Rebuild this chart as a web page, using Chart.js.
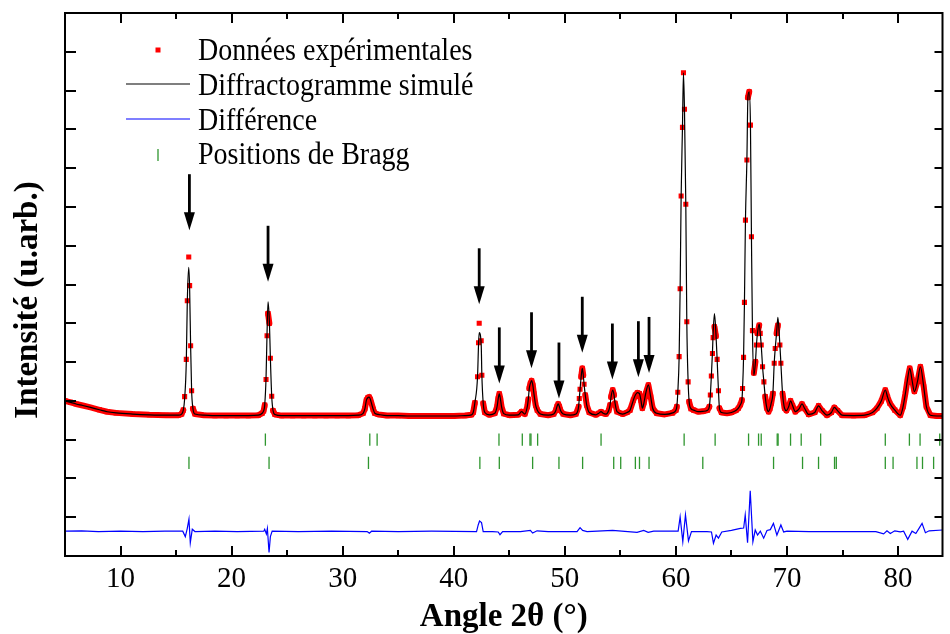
<!DOCTYPE html>
<html>
<head>
<meta charset="utf-8">
<script src="https://cdn.jsdelivr.net/npm/chart.js@4.4.1/dist/chart.umd.min.js"></script>
<style>
  body { margin: 0; background: #fff; }
  #wrap { width: 950px; height: 634px; }
</style>
</head>
<body>
<div id="wrap"><canvas id="xrd"></canvas></div>
<script>
// angles 2theta (deg) and intensities (u.arb.)
const angle = [
  5.0, 5.5, 6.0, 6.6, 7.3, 8.1, 8.8, 9.6, 11.1, 12.6, 14.1, 15.2, 15.5,
  15.65, 15.77, 15.92, 16.01, 16.14, 16.22, 16.31, 16.40, 16.52, 16.7,
  17.5, 18.5, 19.5, 20.5, 21.5, 22.4, 22.75,
  22.88, 22.98, 23.10, 23.19, 23.28, 23.40, 23.49, 23.61, 23.73, 23.9,
  24.5, 25.5, 26.5, 27.5, 28.5, 29.5, 30.5, 31.4,
  31.84, 32.0, 32.14, 32.26, 32.38, 32.49, 32.59, 32.75, 32.89, 33.2,
  34, 35, 36, 37, 38, 39, 40, 41, 41.6,
  41.75, 41.90, 42.14, 42.23, 42.29, 42.47, 42.53, 42.65, 42.8,
  43.2, 43.7, 43.9, 44.0, 44.1, 44.2, 44.3, 44.5, 45.0, 45.8, 46.1, 46.4,
  46.62, 46.71, 46.80, 46.9, 47.01, 47.12, 47.22, 47.37, 47.52, 47.8, 48.5,
  49.0, 49.2, 49.3, 49.4, 49.5, 49.6, 49.85, 50.5,
  51.0, 51.24, 51.30, 51.37, 51.47, 51.57, 51.66, 51.73, 51.84, 51.97, 52.2,
  52.8, 53.05, 53.26, 53.45, 53.7, 53.95, 54.07, 54.16, 54.31, 54.43, 54.52, 54.7, 55.2, 55.6,
  55.87, 56.17, 56.35, 56.53, 56.71, 56.85, 56.98, 57.12, 57.28, 57.52, 57.73, 57.91, 58.27,
  59.0, 59.7, 60.0,
  60.08, 60.17, 60.29, 60.38, 60.47, 60.59, 60.68, 60.77, 60.89, 60.98, 61.10, 61.19, 61.35, 61.6,
  62.0, 62.45, 62.85,
  63.01, 63.10, 63.19, 63.29, 63.35, 63.47, 63.60, 63.71, 63.83, 63.92, 64.1, 64.6, 65.0, 65.4, 65.62, 65.8,
  65.94, 66.00, 66.09, 66.17, 66.26, 66.39, 66.48, 66.60, 66.71, 66.80, 66.89, 67.02,
  67.16, 67.25, 67.34, 67.50, 67.59, 67.68, 67.80, 67.92, 68.04, 68.19, 68.34, 68.46,
  68.58, 68.73, 68.85, 68.94, 69.06, 69.18, 69.36, 69.45, 69.60, 69.78, 69.95,
  70.15, 70.32, 70.5, 70.75, 71.1, 71.35, 71.6, 71.95, 72.5, 72.84, 73.15, 73.6, 74.0, 74.26, 74.55, 74.95,
  76.0, 77.0, 77.7, 78.1, 78.5, 78.85, 79.05, 79.26, 79.71, 80.2,
  80.45, 80.66, 80.85, 81.05, 81.25, 81.47, 81.75, 82.01, 82.31, 82.55, 82.91, 83.5, 84.0
];
const yObs = [
  4.00, 3.96, 3.92, 3.88, 3.83, 3.77, 3.72, 3.69, 3.66, 3.64, 3.63, 3.63, 3.66,
  3.76, 4.11, 5.07, 6.58, 7.71, 6.97, 5.42, 4.26, 3.80, 3.66,
  3.63, 3.62, 3.62, 3.62, 3.62, 3.63, 3.68,
  3.74, 3.89, 4.55, 5.68, 6.25, 6.00, 5.10, 4.12, 3.75, 3.65,
  3.62, 3.62, 3.62, 3.62, 3.62, 3.62, 3.62, 3.63,
  3.68, 3.80, 4.02, 4.08, 4.10, 4.04, 3.94, 3.78, 3.68, 3.65,
  3.62, 3.62, 3.61, 3.61, 3.61, 3.61, 3.61, 3.62, 3.64,
  3.70, 3.95, 4.62, 5.50, 6.00, 5.55, 4.66, 3.94, 3.70,
  3.64, 3.68, 3.85, 4.05, 4.18, 4.05, 3.85, 3.67, 3.63, 3.64, 3.72, 3.66,
  3.85, 4.04, 4.32, 4.45, 4.52, 4.40, 4.18, 3.89, 3.76, 3.66, 3.63,
  3.66, 3.76, 3.86, 3.92, 3.86, 3.76, 3.66, 3.63,
  3.66, 3.85, 4.06, 4.30, 4.62, 4.84, 4.66, 4.43, 4.15, 3.89, 3.70,
  3.64, 3.68, 3.72, 3.68, 3.66, 3.75, 3.89, 4.10, 4.28, 4.15, 3.94, 3.72, 3.66, 3.70,
  3.76, 4.02, 4.15, 4.21, 4.19, 4.02, 3.81, 3.95, 4.19, 4.41, 4.10, 3.81, 3.68,
  3.65, 3.69, 3.76,
  3.85, 4.22, 5.14, 6.89, 9.28, 11.05, 12.46, 11.52, 9.07, 6.04, 4.49, 3.98, 3.80, 3.76,
  3.72, 3.73, 3.76,
  3.85, 4.15, 4.64, 5.22, 5.63, 5.91, 5.67, 5.07, 4.26, 3.81, 3.70, 3.68, 3.70, 3.75, 3.81, 3.90,
  4.02, 4.32, 5.12, 6.54, 8.66, 10.21, 11.82, 11.97, 11.11, 8.23, 5.81, 4.72,
  5.01, 5.44, 5.74, 5.95, 5.74, 5.44, 4.88, 4.49, 4.11, 3.81, 3.72, 3.80,
  3.94, 4.19, 4.97, 5.35, 5.74, 5.95, 5.44, 4.97, 4.19, 3.81, 3.75,
  3.85, 4.00, 3.88, 3.72, 3.80, 3.92, 3.80, 3.65, 3.70, 3.87, 3.75, 3.63, 3.70, 3.83, 3.75, 3.63,
  3.62, 3.63, 3.70, 3.81, 4.00, 4.28, 4.10, 3.94, 3.76, 3.63,
  3.85, 4.19, 4.55, 4.84, 4.55, 4.24, 4.50, 4.88, 4.36, 3.85, 3.63, 3.61, 3.61
];
const yCalc = [
  4.00, 3.96, 3.92, 3.88, 3.83, 3.77, 3.72, 3.69, 3.66, 3.64, 3.63, 3.63, 3.66,
  3.76, 4.05, 5.00, 6.55, 7.44, 6.90, 5.42, 4.26, 3.80, 3.66,
  3.63, 3.62, 3.62, 3.62, 3.62, 3.63, 3.68,
  3.74, 3.89, 4.60, 5.75, 6.55, 6.05, 5.10, 4.12, 3.75, 3.65,
  3.62, 3.62, 3.62, 3.62, 3.62, 3.62, 3.62, 3.63,
  3.68, 3.80, 4.02, 4.08, 4.10, 4.04, 3.94, 3.78, 3.68, 3.65,
  3.62, 3.62, 3.61, 3.61, 3.61, 3.61, 3.61, 3.62, 3.64,
  3.70, 3.95, 4.62, 5.45, 5.76, 5.45, 4.66, 3.94, 3.70,
  3.64, 3.68, 3.85, 4.05, 4.18, 4.05, 3.85, 3.67, 3.63, 3.64, 3.72, 3.66,
  3.85, 4.04, 4.32, 4.45, 4.52, 4.40, 4.18, 3.89, 3.76, 3.66, 3.63,
  3.66, 3.76, 3.86, 3.92, 3.86, 3.76, 3.66, 3.63,
  3.66, 3.85, 4.06, 4.30, 4.62, 4.84, 4.66, 4.43, 4.15, 3.89, 3.70,
  3.64, 3.68, 3.72, 3.68, 3.66, 3.75, 3.89, 4.10, 4.28, 4.15, 3.94, 3.72, 3.66, 3.70,
  3.76, 4.02, 4.15, 4.21, 4.19, 4.02, 3.81, 3.95, 4.19, 4.41, 4.10, 3.81, 3.68,
  3.65, 3.69, 3.76,
  3.85, 4.22, 5.14, 6.89, 9.28, 11.05, 12.46, 11.52, 9.07, 6.04, 4.49, 3.98, 3.80, 3.76,
  3.72, 3.73, 3.76,
  3.85, 4.15, 4.64, 5.25, 5.75, 6.25, 5.75, 5.07, 4.26, 3.81, 3.70, 3.68, 3.70, 3.75, 3.81, 3.90,
  4.02, 4.32, 5.12, 6.54, 8.66, 10.21, 11.82, 11.97, 11.11, 8.23, 5.81, 4.66,
  5.01, 5.44, 5.74, 5.98, 5.74, 5.44, 4.88, 4.49, 4.11, 3.81, 3.72, 3.80,
  3.94, 4.19, 4.97, 5.35, 5.74, 6.15, 5.44, 4.97, 4.19, 3.81, 3.75,
  3.85, 4.00, 3.88, 3.72, 3.80, 3.92, 3.80, 3.65, 3.70, 3.87, 3.75, 3.63, 3.70, 3.83, 3.75, 3.63,
  3.62, 3.63, 3.70, 3.81, 4.00, 4.28, 4.10, 3.94, 3.76, 3.63,
  3.85, 4.19, 4.55, 4.84, 4.55, 4.24, 4.50, 4.88, 4.36, 3.85, 3.63, 3.61, 3.61
];

// difference curve (obs - calc), shifted down
const diffAngle = [
  5.0, 6.5, 8.0, 10.0, 12.0, 14.0, 15.6, 15.83, 16.0, 16.16, 16.28, 16.46, 16.7,
  18.5, 20.5, 22.9, 22.98, 23.13, 23.22, 23.37, 23.49, 23.65,
  26.0, 29.0, 32.2, 32.4, 32.6, 35.0, 38.0, 42.05, 42.2, 42.32, 42.5, 42.65,
  43.5, 44.0, 44.16, 44.4, 46.0, 46.9, 47.1, 47.5, 48.5, 51.1, 51.37, 51.6, 52.0,
  54.3, 56.5, 57.1, 57.5, 58.0, 60.2, 60.38, 60.62, 60.86, 61.13, 61.4,
  62.8, 63.2, 63.38, 63.52, 63.62, 63.83, 64.13, 65.0, 65.8,
  66.1, 66.24, 66.45, 66.69, 66.93, 67.14, 67.35, 67.6, 67.9, 68.2, 68.5, 68.78, 69.09, 69.45, 69.7, 70.0,
  72.0, 75.0, 78.0, 78.7, 79.0, 79.3, 79.7, 80.2, 80.5, 80.87, 81.26, 81.6, 81.9, 82.16, 82.46, 82.8, 84.0
];
const yDiff = [
  0.64, 0.65, 0.63, 0.64, 0.63, 0.64, 0.64, 0.50, 0.70, 0.95, 0.34, 0.69, 0.63,
  0.64, 0.63, 0.64, 0.69, 0.57, 0.71, 0.09, 0.50, 0.64,
  0.63, 0.64, 0.63, 0.59, 0.64, 0.63, 0.64, 0.63, 0.80, 0.90, 0.86, 0.63,
  0.63, 0.62, 0.55, 0.63, 0.63, 0.66, 0.59, 0.65, 0.63, 0.63, 0.73, 0.66, 0.63,
  0.66, 0.61, 0.66, 0.61, 0.64, 0.64, 1.01, 0.37, 1.06, 0.39, 0.63,
  0.63, 0.62, 0.33, 0.45, 0.54, 0.46, 0.62, 0.66, 0.71,
  0.72, 1.06, 0.34, 1.68, 0.37, 0.67, 0.54, 0.64, 0.46, 0.66, 0.68, 0.84, 0.54, 0.80, 0.62, 0.64,
  0.63, 0.63, 0.63, 0.57, 0.65, 0.58, 0.65, 0.62, 0.64, 0.43, 0.64, 0.58, 0.72, 0.84, 0.60, 0.65, 0.67
];

// Bragg reflections, two phases
const braggPhase1 = [23.04, 32.44, 33.10, 44.07, 46.17, 46.86, 46.95, 47.55, 53.26, 60.74, 63.53,
  66.54, 67.44, 67.68, 69.12, 69.20, 70.32, 71.28, 73.03, 78.85, 81.02, 81.98, 83.75];
const braggPhase2 = [16.16, 23.37, 32.32, 42.35, 44.10, 47.10, 49.47, 51.60, 54.40, 55.03, 56.35,
  56.72, 57.58, 62.42, 68.79, 71.40, 72.84, 74.28, 74.44, 78.85, 79.55, 81.70, 82.20, 83.20];
const braggLevel = [3.00, 2.40];

// arrows pointing at the marked peaks (tip height in u.arb.)
const arrowAngle = [16.2, 23.28, 42.29, 44.1, 47.0, 49.47, 51.57, 54.28, 56.62, 57.58];
const arrowTip = [8.40, 7.07, 6.49, 4.45, 4.84, 4.06, 5.24, 4.55, 4.61, 4.72];

const legendLabels = ['Données expérimentales', 'Diffractogramme simulé', 'Différence', 'Positions de Bragg'];

const serif = "'Liberation Serif', 'Times New Roman', serif";
const green = '#2f962f';

const obsPts = angle.map((a, i) => ({ x: a, y: yObs[i] }));
const calcPts = angle.map((a, i) => ({ x: a, y: yCalc[i] }));
const diffPts = diffAngle.map((a, i) => ({ x: a, y: yDiff[i] }));
const bragg1Pts = braggPhase1.map(a => ({ x: a, y: braggLevel[0] }));
const bragg2Pts = braggPhase2.map(a => ({ x: a, y: braggLevel[1] }));

// the measured points are so dense that they merge into a band where the curve is not steep
const bandColor = c => {
  const dx = Math.abs(c.p1.x - c.p0.x), dy = Math.abs(c.p1.y - c.p0.y);
  return dy > 8 * dx ? 'rgba(0,0,0,0)' : '#ff0000';
};

const decor = {
  id: 'decor',
  afterDraw(chart) {
    const { ctx, chartArea: a, scales: { x, y } } = chart;
    ctx.save();

    // frame and inward ticks
    ctx.strokeStyle = '#000';
    ctx.lineWidth = 2;
    ctx.strokeRect(a.left, a.top, a.right - a.left, a.bottom - a.top);
    ctx.beginPath();
    for (let v = 10; v <= 80; v += 5) {
      const px = Math.round(x.getPixelForValue(v));
      const len = v % 10 === 0 ? 10 : 6;
      ctx.moveTo(px, a.bottom); ctx.lineTo(px, a.bottom - len);
      ctx.moveTo(px, a.top); ctx.lineTo(px, a.top + len);
    }
    for (let v = 1; v < 14; v++) {
      const py = Math.round(y.getPixelForValue(v));
      ctx.moveTo(a.left, py); ctx.lineTo(a.left + 11, py);
      ctx.moveTo(a.right, py); ctx.lineTo(a.right - 8, py);
    }
    ctx.stroke();

    // arrows
    ctx.fillStyle = '#000';
    ctx.lineWidth = 2.8;
    arrowAngle.forEach((ang, i) => {
      const px = x.getPixelForValue(ang);
      const tip = y.getPixelForValue(arrowTip[i]);
      ctx.beginPath();
      ctx.moveTo(px, tip - 56);
      ctx.lineTo(px, tip - 14);
      ctx.stroke();
      ctx.beginPath();
      ctx.moveTo(px - 5.5, tip - 18);
      ctx.lineTo(px + 5.5, tip - 18);
      ctx.lineTo(px, tip);
      ctx.closePath();
      ctx.fill();
    });

    // legend
    const rows = [60, 95, 130, 164];
    ctx.fillStyle = '#ff0000';
    ctx.fillRect(155.5, 47.5, 5, 5);
    ctx.lineWidth = 1.2;
    ctx.strokeStyle = '#000';
    ctx.beginPath(); ctx.moveTo(126, 84); ctx.lineTo(190, 84); ctx.stroke();
    ctx.strokeStyle = '#0000ff';
    ctx.beginPath(); ctx.moveTo(126, 119); ctx.lineTo(190, 119); ctx.stroke();
    ctx.strokeStyle = green;
    ctx.lineWidth = 1.3;
    ctx.beginPath(); ctx.moveTo(158, 149); ctx.lineTo(158, 161); ctx.stroke();
    ctx.fillStyle = '#000';
    ctx.font = '28px ' + serif;
    ctx.textBaseline = 'alphabetic';
    ctx.textAlign = 'left';
    legendLabels.forEach((t, i) => {
      ctx.save();
      ctx.translate(198, rows[i]);
      ctx.scale(1, 1.12);
      ctx.fillText(t, 0, 0);
      ctx.restore();
    });

    // y axis title
    ctx.translate(37, 300);
    ctx.rotate(-Math.PI / 2);
    ctx.font = 'bold 33px ' + serif;
    ctx.textAlign = 'center';
    ctx.fillText('Intensité (u.arb.)', 0, 0);
    ctx.restore();
  }
};

new Chart(document.getElementById('xrd'), {
  type: 'scatter',
  data: {
    datasets: [
      { label: 'Diffractogramme simulé', data: calcPts, showLine: true, borderColor: '#000',
        borderWidth: 1.2, pointRadius: 0, cubicInterpolationMode: 'monotone', order: 1 },
      { label: 'Données expérimentales', data: obsPts, showLine: true, borderColor: '#ff0000',
        borderWidth: 6, borderJoinStyle: 'round', borderCapStyle: 'round',
        segment: { borderColor: bandColor },
        pointStyle: 'rect', pointRadius: 3.6, pointBackgroundColor: '#ff0000', pointBorderWidth: 0, order: 2 },
      { label: 'Différence', data: diffPts, showLine: true, borderColor: '#0000ff',
        borderWidth: 1.2, pointRadius: 0, order: 1 },
      { label: 'Positions de Bragg', data: bragg1Pts, pointStyle: 'line', pointRotation: 90,
        pointRadius: 6.2, pointBorderColor: green, pointBorderWidth: 1.3, order: 3 },
      { label: 'Positions de Bragg (2)', data: bragg2Pts, pointStyle: 'line', pointRotation: 90,
        pointRadius: 6.2, pointBorderColor: green, pointBorderWidth: 1.3, order: 3 }
    ]
  },
  options: {
    responsive: true,
    maintainAspectRatio: false,
    animation: false,
    events: [],
    layout: { padding: { top: 13, right: 7, left: 0, bottom: 0 } },
    plugins: { legend: { display: false }, tooltip: { enabled: false } },
    scales: {
      x: {
        type: 'linear', min: 5, max: 84,
        afterFit: s => { s.height = 78; },
        grid: { display: false, drawTicks: false },
        border: { display: false },
        ticks: { stepSize: 10, includeBounds: false, padding: 6, maxRotation: 0, color: '#000',
                 font: { family: serif, size: 29 } },
        title: { display: true, text: 'Angle 2θ (°)', color: '#000', padding: { top: 0, bottom: -3 },
                 font: { family: serif, size: 33, weight: 'bold' } }
      },
      y: {
        min: 0, max: 14,
        afterFit: s => { s.width = 65; },
        grid: { display: false, drawTicks: false },
        border: { display: false },
        ticks: { display: false, stepSize: 1 }
      }
    }
  },
  plugins: [decor]
});
</script>
</body>
</html>
